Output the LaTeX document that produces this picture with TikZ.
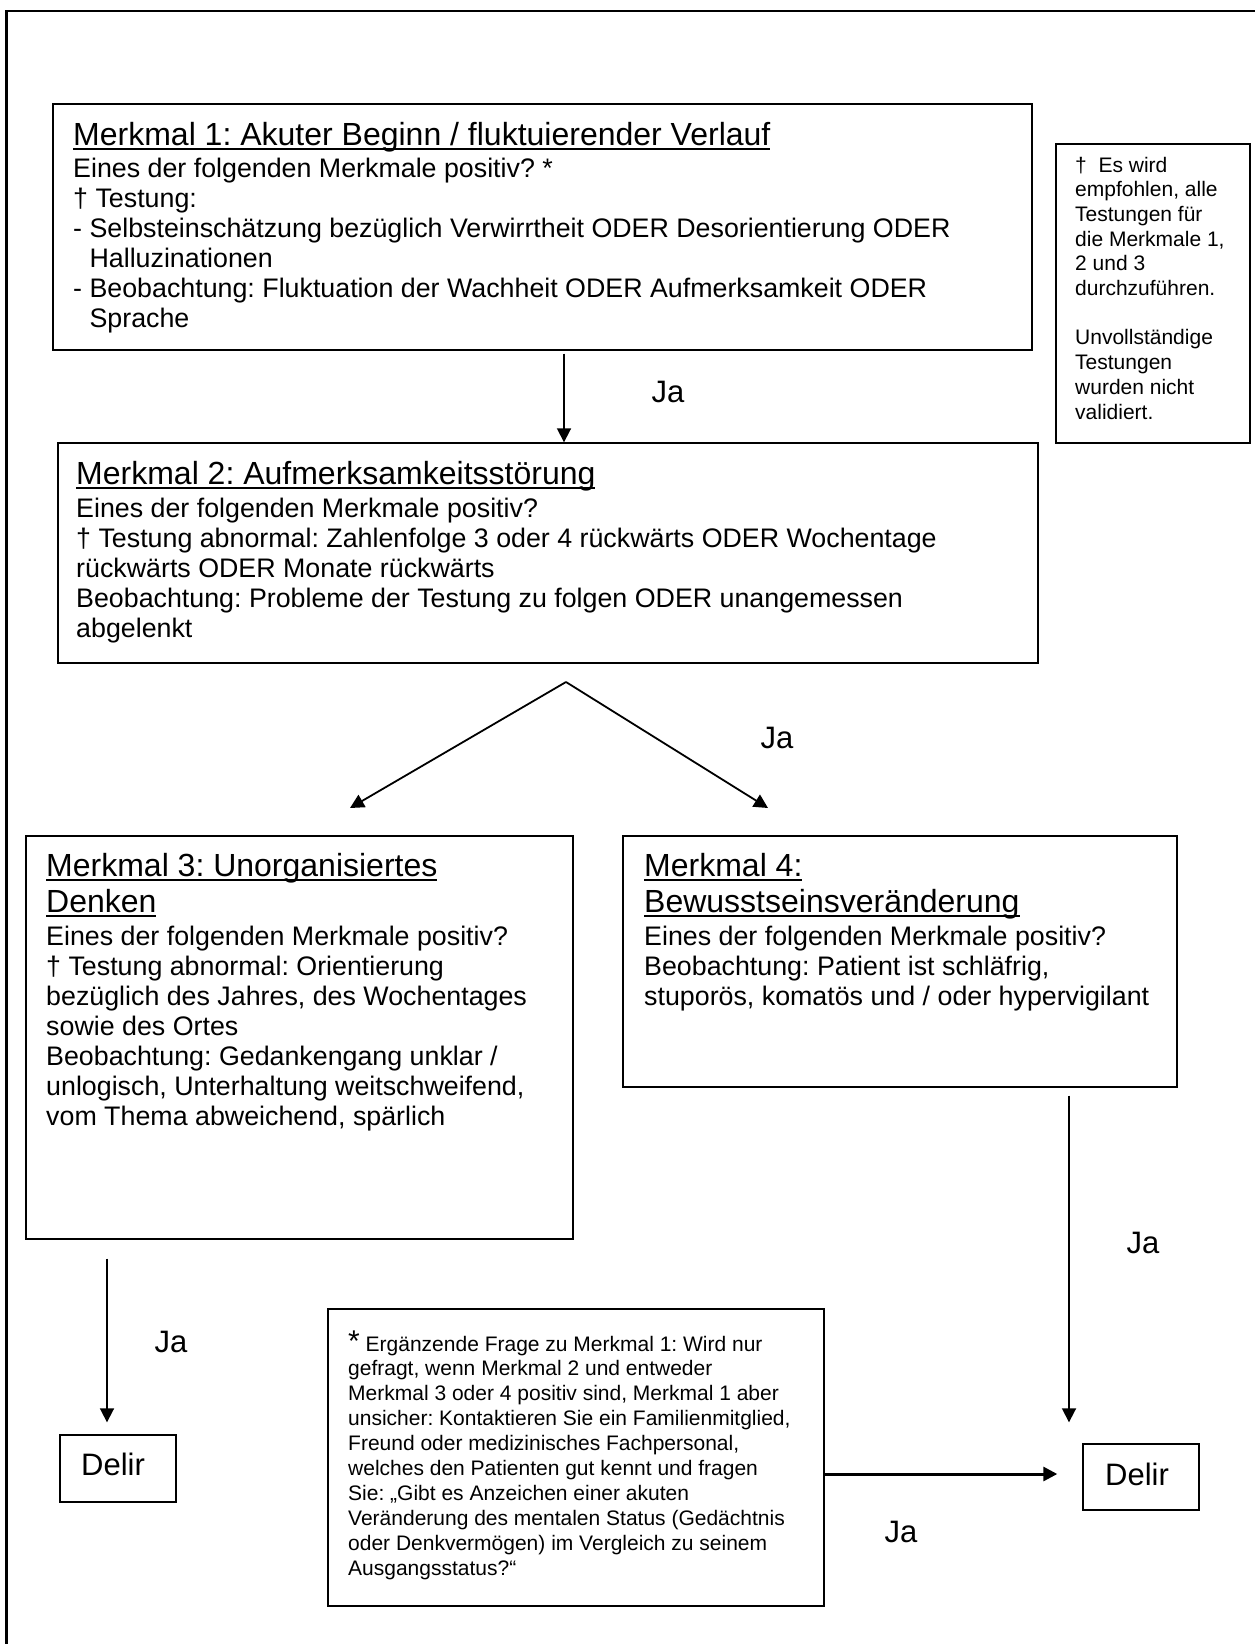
\documentclass[tikz,border=0pt]{standalone}
\usepackage{fontspec}
\setmainfont{Liberation Sans}
\usetikzlibrary{arrows.meta,shadows}
\newcommand\ulx[1]{\leavevmode\setbox0=\hbox{#1}\rlap{\rule[-5pt]{\wd0}{2.2pt}}\box0}
\newcommand\tblock[1]{\parbox[t]{1000pt}{\raggedright\frenchspacing\parindent=0pt\parskip=0pt\lineskiplimit=-100pt\lineskip=0pt #1}}
\newcommand\ftitle{\fontsize{32}{36}\selectfont}
\newcommand\fbody{\fontsize{26.8}{30}\selectfont}
\newcommand\fsmall{\fontsize{21}{24.7}\selectfont}
\newcommand\fnote{\fontsize{21}{24.9}\selectfont}
\begin{document}
\begin{tikzpicture}[x=1pt,y=-1pt,
  bx/.style={draw, line width=1.4pt, fill=white, inner sep=0pt,
    drop shadow={shadow xshift=1.2pt, shadow yshift=-1.2pt, fill=black!40}},
  txt/.style={anchor=base west, inner sep=0pt},
  lbl/.style={anchor=base, inner sep=0pt, font=\fontsize{31}{34}\selectfont},
  arr/.style={line width=1.8pt, -{Triangle[length=14pt,width=14pt]}},
  arrthick/.style={line width=3pt, -{Triangle[length=14pt,width=14pt]}}]
\useasboundingbox (0,0) rectangle (1255,1644);
% outer frame
\draw[line width=2.5pt] (1255,11) -- (6.5,11) -- (6.5,1644);
% boxes
\node[bx, minimum width=979pt, minimum height=246pt] (b1) at (542.5,227) {};
\node[bx, minimum width=980pt, minimum height=220pt] (b2) at (548,553) {};
\node[bx, minimum width=547pt, minimum height=403pt] (b3) at (299.5,1037.5) {};
\node[bx, minimum width=554pt, minimum height=251pt] (b4) at (900,961.5) {};
\node[bx, minimum width=194pt, minimum height=299pt] (side) at (1153,293.5) {};
\node[bx, minimum width=496pt, minimum height=297pt] (note) at (576,1457.5) {};
\node[bx, minimum width=116pt, minimum height=67pt] (dL) at (118,1468.5) {};
\node[bx, minimum width=116pt, minimum height=66pt] (dR) at (1141,1477) {};
% texts
\node[txt] (t1) at (73,145) {\tblock{\ftitle\ulx{Merkmal 1: Akuter Beginn / fluktuierender Verlauf}\par
\vspace{2pt}\fbody Eines der folgenden Merkmale positiv? *\par
† Testung:\par
- Selbsteinschätzung bezüglich Verwirrtheit ODER Desorientierung ODER\par
\hphantom{- }Halluzinationen\par
- Beobachtung: Fluktuation der Wachheit ODER Aufmerksamkeit ODER\par
\hphantom{- }Sprache}};
\node[txt] (t2) at (76,484) {\tblock{\ftitle\ulx{Merkmal 2: Aufmerksamkeitsstörung}\par
\vspace{3pt}\fbody Eines der folgenden Merkmale positiv?\par
† Testung abnormal: Zahlenfolge 3 oder 4 rückwärts ODER Wochentage\par
rückwärts ODER Monate rückwärts\par
Beobachtung: Probleme der Testung zu folgen ODER unangemessen\par
abgelenkt}};
\node[txt] (t3) at (46,876) {\tblock{\ftitle\ulx{Merkmal 3: Unorganisiertes}\par
\ulx{Denken}\par
\vspace{3pt}\fbody Eines der folgenden Merkmale positiv?\par
† Testung abnormal: Orientierung\par
bezüglich des Jahres, des Wochentages\par
sowie des Ortes\par
Beobachtung: Gedankengang unklar /\par
unlogisch, Unterhaltung weitschweifend,\par
vom Thema abweichend, spärlich}};
\node[txt] (t4) at (644,876) {\tblock{\ftitle\ulx{Merkmal 4:}\par
\ulx{Bewusstseinsveränderung}\par
\vspace{3pt}\fbody Eines der folgenden Merkmale positiv?\par
Beobachtung: Patient ist schläfrig,\par
stuporös, komatös und / oder hypervigilant}};
\node[txt] (ts) at (1075,172) {\tblock{\fsmall †\ \ Es wird\par
empfohlen, alle\par
Testungen für\par
die Merkmale 1,\par
2 und 3\par
durchzuführen.\par
\strut\par
Unvollständige\par
Testungen\par
wurden nicht\par
validiert.}};
\node[txt] (tn) at (348,1351) {\tblock{\fnote{\fontsize{30}{30}\selectfont *}\ Ergänzende Frage zu Merkmal 1: Wird nur\par
gefragt, wenn Merkmal 2 und entweder\par
Merkmal 3 oder 4 positiv sind, Merkmal 1 aber\par
unsicher: Kontaktieren Sie ein Familienmitglied,\par
Freund oder medizinisches Fachpersonal,\par
welches den Patienten gut kennt und fragen\par
Sie: „Gibt es Anzeichen einer akuten\par
Veränderung des mentalen Status (Gedächtnis\par
oder Denkvermögen) im Vergleich zu seinem\par
Ausgangsstatus?“}};
\node[lbl] (dLt) at (113,1475) {Delir};
\node[lbl] (dRt) at (1137,1485) {Delir};
% connectors
\coordinate (x1) at (564,0);
\draw[arr, shorten <=3pt] (b1.south -| x1) -- (b2.north -| x1);
\coordinate (apex) at (566,682);
\coordinate (tipL) at (350,808);
\coordinate (tipR) at (768,808);
\draw[arr] (apex) -- (tipL);
\draw[arr] (apex) -- (tipR);
\coordinate (x3) at (107,0);
\draw[arr, shorten <=19pt, shorten >=12pt] (b3.south -| x3) -- (dL.north -| x3);
\coordinate (x4) at (1069,0);
\draw[arr, shorten <=8pt, shorten >=21pt] (b4.south -| x4) -- (dR.north -| x4);
\coordinate (y5) at (0,1474);
\draw[arrthick, shorten >=25pt] (note.east |- y5) -- (dR.west |- y5);
% labels
\node[lbl] (ja1) at (668,402) {Ja};
\node[lbl] (ja2) at (777,748) {Ja};
\node[lbl] (ja3) at (171,1352) {Ja};
\node[lbl] (ja4) at (1143,1253) {Ja};
\node[lbl] (ja5) at (901,1542) {Ja};
\end{tikzpicture}
\end{document}
